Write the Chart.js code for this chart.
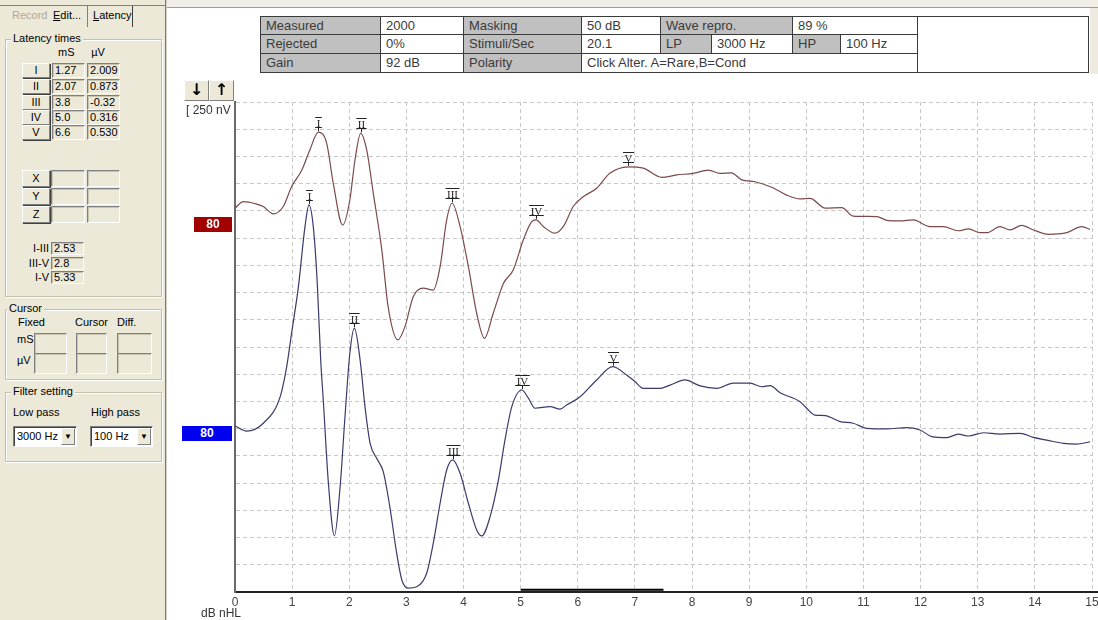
<!DOCTYPE html>
<html><head><meta charset="utf-8">
<script src="https://cdn.jsdelivr.net/npm/chart.js@4.4.0/dist/chart.umd.min.js"></script>
<style>
html,body{margin:0;padding:0;width:1098px;height:620px;overflow:hidden;background:#fff;font-family:"Liberation Sans",Arial,sans-serif;}
#c{position:absolute;left:0;top:0;width:1098px;height:620px;}
div{position:absolute;box-sizing:border-box;white-space:nowrap;}
.panel{background:#ece9d8;}
.lbl{font-size:11px;color:#000;}
.btn{background:#ece9d8;border:1px solid;border-color:#fff #808080 #808080 #fff;font-size:11px;text-align:center;color:#000;box-shadow:1px 1px 0 #404040;}
.box{border:1px solid;border-color:#808080 #fff #fff #808080;font-size:11px;padding-left:2px;color:#000;box-shadow:inset 1px 1px 0 #c8c4b0;}
.grp{border:1px solid #c4c0ae;box-shadow:1px 1px 0 #fff, inset 1px 1px 0 #fff;}
.glbl{background:#ece9d8;font-size:11px;padding:0 2px;color:#000;}
.cell{border:1px solid #3a3a3a;font-size:13px;color:#3a3a3a;padding-left:5px;}
.g{background:#c0c0c0;}
.w{background:#fff;}
.sel{background:#fff;border:1px solid;border-color:#808080 #fff #fff #808080;box-shadow:inset 1px 1px 0 #404040;font-size:11px;padding-left:3px;}
.arrowbtn{background:#ece9d8;border:1px solid;border-color:#fff #808080 #808080 #fff;font-size:8px;text-align:center;color:#000;}
.arr{background:#ece9d8;border:1px solid;border-color:#fff #808080 #808080 #fff;font-family:"DejaVu Sans",sans-serif;font-size:16px;font-weight:bold;text-align:center;color:#000;}
</style></head><body>
<canvas id="c" width="1098" height="620"></canvas>
<script>
// ---------- data ----------
const timesRed = [0,0.145,0.38,0.495,0.67,0.845,0.99,1.17,1.31,1.46,1.605,1.72,1.885,2.01,2.10,2.20,2.305,2.42,2.57,2.68,2.85,2.975,3.12,3.295,3.47,3.59,3.705,3.80,3.94,4.085,4.23,4.365,4.52,4.70,4.87,5.045,5.19,5.27,5.40,5.60,5.745,5.92,6.095,6.33,6.56,6.885,7.145,7.47,7.73,8.02,8.285,8.49,8.69,8.87,9.10,9.395,9.655,9.89,10.065,10.33,10.62,10.82,11.23,11.435,11.64,11.87,12.165,12.40,12.66,12.835,13.04,13.16,13.39,13.565,13.77,13.975,14.235,14.56,14.82,14.965];
const ampRed = [14.10,14.34,14.25,14.16,13.89,14.16,14.89,15.50,16.24,16.89,16.48,15.01,13.48,14.40,15.87,16.85,16.24,14.65,12.56,10.48,9.26,9.75,10.85,11.16,11.09,11.95,13.67,14.28,13.42,11.95,10.24,9.32,10.24,11.34,11.83,12.93,13.60,13.67,13.42,13.18,13.42,14.16,14.52,14.83,15.38,15.62,15.57,15.23,15.32,15.38,15.50,15.38,15.40,15.14,15.07,14.87,14.58,14.44,14.46,14.10,14.12,13.81,13.79,13.64,13.63,13.67,13.42,13.42,13.27,13.34,13.20,13.20,13.42,13.30,13.47,13.30,13.14,13.20,13.42,13.32];
const timesBlue = [0,0.205,0.495,0.79,0.905,0.99,1.11,1.225,1.295,1.37,1.44,1.50,1.545,1.635,1.74,1.84,1.925,2.01,2.09,2.19,2.275,2.365,2.48,2.595,2.71,2.83,2.92,3.03,3.18,3.355,3.47,3.59,3.705,3.81,3.94,4.085,4.23,4.32,4.465,4.61,4.725,4.845,5.02,5.135,5.25,5.515,5.69,5.805,6.04,6.33,6.61,6.855,7.0,7.145,7.44,7.615,7.875,8.14,8.43,8.72,9.015,9.22,9.365,9.54,9.89,10.005,10.15,10.33,10.59,10.82,11.06,11.405,11.755,11.99,12.195,12.46,12.66,12.835,13.10,13.39,13.74,13.975,14.21,14.50,14.73,14.965];
const ampBlue = [6.10,5.91,6.20,7.17,8.28,9.50,11.22,13.42,14.22,13.42,11.34,8.52,7.05,3.99,2.06,3.87,6.44,8.77,9.69,8.52,6.81,5.46,4.91,4.42,3.13,1.42,0.44,0.14,0.19,0.69,1.79,3.26,4.48,4.85,4.36,3.26,2.28,2.06,2.77,4.11,5.58,6.81,7.42,7.12,6.75,6.81,6.72,6.87,7.17,7.79,8.28,7.97,7.73,7.48,7.48,7.60,7.79,7.57,7.48,7.67,7.67,7.54,7.58,7.32,6.99,6.75,6.50,6.48,6.26,6.20,6.01,5.99,6.04,5.95,5.71,5.67,5.80,5.73,5.85,5.80,5.83,5.68,5.58,5.46,5.43,5.52];
const peakLabels = ['I','II','III','IV','V'];
const peakTimesRed = [1.46,2.20,3.80,5.27,6.885];
const peakAmpRed = [16.89,16.85,14.28,13.67,15.62];
const peakTimesBlue = [1.295,2.09,3.81,5.02,6.61];
const peakAmpBlue = [14.22,9.69,4.85,7.42,8.28];
const windowTimes = [5,7.5];
const windowAmp = [0.08,0.08];
const xMin = 0, xMax = 15, yMin = 0, yMax = 18;

const latencyRows = ['I','II','III','IV','V'];
const latencyMs = ['1.27','2.07','3.8','5.0','6.6'];
const latencyUv = ['2.009','0.873','-0.32','0.316','0.530'];
const intervalLabels = ['I-III','III-V','I-V'];
const intervalValues = ['2.53','2.8','5.33'];

// ---------- UI helpers ----------
function put(cls,x,y,w,h,text,extra){
  const d=document.createElement('div'); d.className=cls;
  d.style.left=x+'px'; d.style.top=y+'px';
  if(w!=null) d.style.width=w+'px';
  if(h!=null){ d.style.height=h+'px'; d.style.lineHeight=(h-2)+'px'; }
  if(extra) Object.assign(d.style,extra);
  if(text!=null) d.textContent=text;
  document.body.appendChild(d); return d;
}
// left panel
put('panel',0,0,165,620);
put('',165,0,1,620,null,{background:'#7a7a7a'});
put('',166,0,1,620,null,{background:'#d4d0c8'});
put('',0,5,165,1,null,{background:'#808080'});
put('lbl',12,8,null,16,'Record',{color:'#aca899'});
const e=put('lbl',53,8,null,16,null); e.innerHTML='<u>E</u>dit...';
const l=put('lbl',93,8,null,16,null); l.innerHTML='<u>L</u>atency';
put('',87,6,1,21,null,{background:'#808080'});
put('',132,6,1,21,null,{background:'#404040'});
// groups
put('grp',5,39,157,258); put('glbl',11,32,null,14,'Latency times');
put('grp',5,309,157,71); put('glbl',7,302,null,14,'Cursor');
put('grp',5,392,157,70); put('glbl',11,385,null,14,'Filter setting');
put('lbl',58,46,14,14,'mS',{textAlign:'center'});
put('lbl',91,46,14,14,'µV',{textAlign:'center'});
const rowTops=[63,79,95,110,125];
latencyRows.forEach((r,i)=>{
  put('btn',22,rowTops[i],28,15,r);
  put('box',52,rowTops[i],33,15,latencyMs[i]);
  put('box',87,rowTops[i],33,15,latencyUv[i]);
});
['X','Y','Z'].forEach((r,i)=>{
  const t=[170,188,206][i];
  put('btn',22,t,28,17,r); put('box',51,t,34,17,''); put('box',87,t,33,17,'');
});
intervalLabels.forEach((r,i)=>{
  const t=[242,257,271][i];
  put('lbl',14,t,35,13,r,{textAlign:'right',lineHeight:'12px'});
  put('box',51,t,33,13,intervalValues[i]);
});
put('lbl',18,317,null,12,'Fixed'); put('lbl',75,317,null,12,'Cursor'); put('lbl',117,317,null,12,'Diff.');
put('lbl',17,334,null,12,'mS'); put('lbl',17,355,null,12,'µV');
[[34,33],[76,31],[117,35]].forEach(([x,w])=>{ put('box',x,333,w,21,''); put('box',x,353,w,21,''); });
put('lbl',13,407,null,13,'Low pass'); put('lbl',91,407,null,13,'High pass');
put('sel',13,426,64,21,'3000 Hz'); put('arrowbtn',61,428,14,17,'▼');
put('sel',90,426,63,21,'100 Hz'); put('arrowbtn',137,428,14,17,'▼');
// top strip
put('',167,0,931,7,null,{background:'#f0eee6'});
put('',167,7,931,1,null,{background:'#9a9a9a'});
// info table
const cells=[
 [260,380,16,34,'Measured','g'],[380,463,16,34,'2000','w'],[463,581,16,34,'Masking','g'],[581,660,16,34,'50 dB','w'],[660,792,16,34,'Wave repro.','g'],[792,917,16,34,'89 %','w'],
 [260,380,34,53,'Rejected','g'],[380,463,34,53,'0%','w'],[463,581,34,53,'Stimuli/Sec','g'],[581,660,34,53,'20.1','w'],[660,711,34,53,'LP','g'],[711,792,34,53,'3000 Hz','w'],[792,840,34,53,'HP','g'],[840,917,34,53,'100 Hz','w'],
 [260,380,53,72,'Gain','g'],[380,463,53,72,'92 dB','w'],[463,581,53,72,'Polarity','g'],[581,917,53,72,'Click Alter. A=Rare,B=Cond','w'],
 [917,1088,16,72,'','w']
];
cells.forEach(c=>put('cell '+c[5],c[0],c[2],c[1]-c[0]+1,c[3]-c[2]+1,c[4],{lineHeight:(c[3]-c[2]-1)+'px'}));
put('',1090,8,8,66,null,{background:'#eeeae0'});
// plot side widgets
put('arr',184,80,25,21,'↓',{lineHeight:'18px'});
put('arr',209,80,25,21,'↑',{lineHeight:'18px'});
put('lbl',186,103,null,14,'[ 250 nV',{fontSize:'12px',color:'#333',lineHeight:'14px'});
put('',194,217,38,15,'80',{background:'#a30000',color:'#fff',fontWeight:'bold',fontSize:'12px',textAlign:'center',lineHeight:'15px'});
put('',182,426,50,15,'80',{background:'#0000f0',color:'#fff',fontWeight:'bold',fontSize:'12px',textAlign:'center',lineHeight:'15px'});
put('lbl',201,606,null,14,'dB nHL',{fontSize:'12px',color:'#333',lineHeight:'14px'});

// ---------- chart ----------
const toXY=(ts,as)=>ts.map((t,i)=>({x:t,y:as[i]}));
const peakMarkers={
  id:'peakMarkers',
  afterDatasetsDraw(chart){
    const {ctx,scales:{x,y}}=chart;
    ctx.save();
    ctx.font='11px "Liberation Serif","DejaVu Serif",serif';
    ctx.fillStyle='#222'; ctx.strokeStyle='#222'; ctx.lineWidth=1;
    ctx.textAlign='center'; ctx.textBaseline='alphabetic';
    [[peakTimesRed,peakAmpRed],[peakTimesBlue,peakAmpBlue]].forEach(([ts,as])=>{
      ts.forEach((t,i)=>{
        const px=Math.round(x.getPixelForValue(t))+0.5;
        const py=y.getPixelForValue(as[i]);
        const lbl=peakLabels[i];
        const w=ctx.measureText(lbl).width+3;
        const yb=Math.round(py-5)+0.5, yt=Math.round(py-15)+0.5;
        ctx.beginPath();
        ctx.moveTo(px,py-1); ctx.lineTo(px,yb);
        ctx.moveTo(px-w/2,yb); ctx.lineTo(px+w/2,yb);
        ctx.moveTo(px-w/2,yt); ctx.lineTo(px+w/2,yt);
        ctx.stroke();
        ctx.fillText(lbl,px,yb-1);
      });
    });
    ctx.restore();
  }
};
const axisExt={
  id:'axisExt',
  afterDraw(chart){
    const {ctx,chartArea:a}=chart;
    ctx.save(); ctx.strokeStyle='#222'; ctx.lineWidth=2;
    ctx.beginPath(); ctx.moveTo(a.right,a.bottom); ctx.lineTo(chart.width,a.bottom); ctx.stroke();
    ctx.restore();
  }
};
new Chart(document.getElementById('c'),{
  type:'line',
  data:{datasets:[
    {data:toXY(timesRed,ampRed),borderColor:'#7d4a4a',borderWidth:1.2,pointRadius:0,cubicInterpolationMode:'monotone'},
    {data:toXY(timesBlue,ampBlue),borderColor:'#3a3a6c',borderWidth:1.2,pointRadius:0,cubicInterpolationMode:'monotone'},
    {data:toXY(windowTimes,windowAmp),borderColor:'#000',borderWidth:2,pointRadius:0}
  ]},
  options:{
    responsive:false,animation:false,
    layout:{padding:{left:235,top:102,right:6,bottom:0}},
    plugins:{legend:{display:false},tooltip:{enabled:false}},
    scales:{
      x:{type:'linear',min:xMin,max:xMax,
         ticks:{stepSize:1,padding:3,color:'#444',font:{family:'"Liberation Sans",Arial,sans-serif',size:12}},
         grid:{color:'#c8c8c8',lineWidth:1,drawTicks:false},
         border:{display:true,color:'#222',width:2,dash:[4,3]},
         afterFit(a){a.height=28;a.paddingLeft=0;a.paddingRight=0;}},
      y:{type:'linear',min:yMin,max:yMax,
         ticks:{stepSize:1,display:false},
         grid:{color:'#c8c8c8',lineWidth:1,drawTicks:false},
         border:{display:true,color:'#6a6a6a',width:2,dash:[4,3]},
         afterFit(a){a.width=0;a.paddingTop=0;a.paddingBottom=0;}}
    }
  },
  plugins:[peakMarkers,axisExt]
});
</script>
</body></html>
